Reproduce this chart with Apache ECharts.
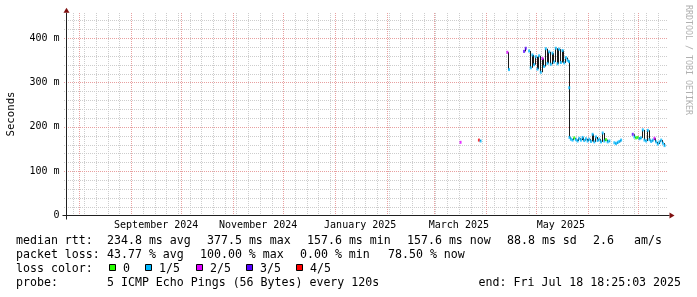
<!DOCTYPE html>
<html><head><meta charset="utf-8">
<script src="https://cdn.jsdelivr.net/npm/echarts@6/dist/echarts.min.js"></script>
<style>html,body{margin:0;padding:0;background:#fff}#c{width:697px;height:297px}</style>
</head><body><div id="c"></div>
<script>
// ---------- data ----------
const sampleTimes = [
 '2025-03-17','2025-03-18','2025-03-28','2025-03-29','2025-03-30',
 '2025-04-14','2025-04-15','2025-04-16','2025-04-24','2025-04-25','2025-04-26',
 '2025-04-27','2025-04-28','2025-04-29','2025-04-30','2025-05-01','2025-05-02','2025-05-03','2025-05-04',
 '2025-05-05','2025-05-06','2025-05-07','2025-05-08','2025-05-09','2025-05-10','2025-05-11','2025-05-12',
 '2025-05-13','2025-05-14','2025-05-15','2025-05-16','2025-05-17','2025-05-18','2025-05-19','2025-05-20',
 '2025-05-20 20:00','2025-05-21 00:00','2025-05-21 04:00',
 '2025-05-22','2025-05-23','2025-05-24','2025-05-25','2025-05-26','2025-05-27','2025-05-28','2025-05-29',
 '2025-05-30','2025-05-31','2025-06-01','2025-06-02','2025-06-03','2025-06-04','2025-06-05','2025-06-06',
 '2025-06-07','2025-06-08','2025-06-09','2025-06-10','2025-06-11','2025-06-12','2025-06-13','2025-06-14',
 '2025-06-15','2025-06-17','2025-06-18','2025-06-19','2025-06-20','2025-06-21','2025-06-22',
 '2025-06-28','2025-06-29','2025-06-30','2025-07-01','2025-07-02','2025-07-03','2025-07-04','2025-07-05',
 '2025-07-06','2025-07-07','2025-07-08','2025-07-09','2025-07-10','2025-07-11','2025-07-12','2025-07-13',
 '2025-07-14','2025-07-15','2025-07-16','2025-07-17'
];
const medianMs = [
 165,null,170,168,null,
 368,329,null,370,377,null,
 371,333,362,340,358,330,360,323,
 354,336,376,343,369,341,366,346,
 377,342,375,345,372,344,356,350,
 347,288,176,
 172,170,175,171,168,174,170,176,
 169,173,168,172,167,183,166,177,
 169,172,166,186,168,171,166,168,
 null,164,162,165,167,170,null,
 183,177,175,176,173,175,193,170,
 168,192,171,167,170,174,166,161,
 166,170,163,157.6
];
const lossLevel = [
 2,null,4,1,null,
 2,1,null,3,3,null,
 1,1,1,1,1,1,1,1,
 2,1,1,1,1,1,1,1,
 1,1,1,1,1,1,1,1,
 1,1,1,
 1,1,0,1,1,1,1,1,
 1,1,1,1,1,1,1,1,
 1,1,1,1,1,0,1,1,
 null,1,1,1,1,1,null,
 3,1,0,0,1,1,1,1,
 1,1,1,1,1,2,1,1,
 1,1,1,1
];
const lossColors = ['#26ff00','#00b8ff','#dd00ff','#5500ff','#ff0000'];
const lossLabels = ['0','1/5','2/5','3/5','4/5'];
const graphEnd = '2025-07-18 18:25:03';
const spanDays = 360;
const monthGridDates = ['2024-08-01','2024-09-01','2024-10-01','2024-11-01','2024-12-01','2025-01-01',
  '2025-02-01','2025-03-01','2025-04-01','2025-05-01','2025-06-01','2025-07-01'];
const firstWeekLine = '2024-07-28';
const monthLabels = ['September 2024','November 2024','January 2025','March 2025','May 2025'];
const monthLabelDates = ['2024-09-16','2024-11-16','2025-01-16','2025-03-16','2025-05-16'];
const yMax = 457;
const yMajorStep = 100, yMinorStep = 20;
const yTitle = 'Seconds';
const watermark = 'RRDTOOL / TOBI OETIKER';
const rttRow = ['median rtt:','234.8 ms avg','377.5 ms max','157.6 ms min','157.6 ms now','88.8 ms sd','2.6','am/s'];
const lossRow = ['packet loss:','43.77 % avg','100.00 % max','0.00 % min','78.50 % now'];
const colorRowTitle = 'loss color:';
const probeRow = ['probe:','5 ICMP Echo Pings (56 Bytes) every 120s'];
const endText = 'end: Fri Jul 18 18:25:03 2025';

// ---------- layout ----------
const rttX = [16,107,207,307,407,507,593,634];
const lossX = [16,107,200,300,388];
const boxX = [109,145,196,246,296];
const rowY = [241,255,269,283];
const FONT = '"DejaVu Sans Mono", "Liberation Mono", monospace';

function ms(s){
  const [d, tm='00:00:00'] = s.split(' ');
  const [Y,M,D] = d.split('-').map(Number);
  const [h,mi,se=0] = tm.split(':').map(Number);
  return Date.UTC(Y,M-1,D,h,mi,se);
}
const tEnd = ms(graphEnd);
const tStart = tEnd - spanDays*86400000;
const times = sampleTimes.map(ms);
// vertical connectors of the median line between consecutive samples
const connectors = [];
for(let i=1;i<times.length;i++){
  if(medianMs[i]!=null && medianMs[i-1]!=null) connectors.push([(times[i-1]+times[i])/2, medianMs[i-1], medianMs[i]]);
}
const markData = [];
times.forEach((t,i)=>{ if(medianMs[i]!=null) markData.push([t, medianMs[i], lossLevel[i]]); });
// grid lines: [value, isMajor, orientation 0=vertical 1=horizontal]
const gridLines = [];
for(let t=ms(firstWeekLine); t<tEnd; t+=7*86400000) gridLines.push([t, 0, 0]);
monthGridDates.forEach(s=>gridLines.push([ms(s), 1, 0]));
for(let v=yMinorStep; v<yMax; v+=yMinorStep) gridLines.push([v, v % yMajorStep === 0 ? 1 : 0, 1]);
const labelTimes = monthLabelDates.map(ms);

const GRAY = '#cdcdcd', RED = '#e8a0a0';

const chart = echarts.init(document.getElementById('c'), null, {renderer:'canvas'});
const option = {
  animation:false,
  backgroundColor:'#fff',
  grid:{left:65.5, top:12.8, width:602, height:202.7, containLabel:false},
  xAxis:{type:'value', min:tStart, max:tEnd,
    axisLine:{show:false}, axisTick:{show:false}, splitLine:{show:false}, axisLabel:{show:false}},
  yAxis:{type:'value', min:0, max:yMax, interval:yMajorStep,
      axisLine:{show:false}, axisTick:{show:false}, splitLine:{show:false},
      axisLabel:{show:true, showMaxLabel:false, margin:6, color:'#000', fontFamily:FONT, fontSize:10,
        formatter:(v)=> v===0 ? '0' : (v + ' m')}},
  series:[
    {type:'custom', z:1, silent:true, clip:false, data:gridLines, encode:{x:-1,y:-1},
      renderItem:(params, api)=>{
        const cs = params.coordSys;
        const major = api.value(1) === 1;
        const style = {stroke: major ? RED : GRAY, lineWidth:1, lineDash:[1,1]};
        if(api.value(2) === 0){
          const x = Math.round(api.coord([api.value(0), 0])[0]) + 0.5;
          return {type:'line', shape:{x1:x, y1:Math.round(cs.y), x2:x, y2:cs.y+cs.height}, style, z2: major?2:1};
        }
        const y = Math.round(api.coord([tStart, api.value(0)])[1]) + 0.5;
        return {type:'line', shape:{x1:Math.round(cs.x)-2, y1:y, x2:cs.x+cs.width, y2:y}, style, z2: major?2:1};
      }},
    {type:'custom', z:3, silent:true, data:connectors, encode:{x:0, y:[1,2]},
      renderItem:(params, api)=>{
        const a = api.coord([api.value(0), api.value(1)]);
        const b = api.coord([api.value(0), api.value(2)]);
        const x = Math.round(a[0]) + 0.5;
        return {type:'line', shape:{x1:x, y1:a[1], x2:x, y2:b[1]}, style:{stroke:'#1a1a1a', lineWidth:1}};
      }},
    {type:'scatter', z:4, data:markData, symbol:'rect', symbolSize:[2,3], silent:true,
      itemStyle:{color:(p)=>lossColors[p.data[2]]}}
  ]
};
chart.setOption(option);

// decorations: axes, arrows, texts
const p0 = chart.convertToPixel({gridIndex:0}, [tStart, 0]);
const p1 = chart.convertToPixel({gridIndex:0}, [tEnd, yMax]);
const ax = Math.round(p0[0])+0.5, ay = Math.round(p0[1])-0.5;
const AX = '#202020', ARR = '#7f1010';
const g = [];
g.push({type:'line', shape:{x1:ax-4, y1:ay, x2:p1[0]+2, y2:ay}, style:{stroke:AX, lineWidth:1}, z:10});
g.push({type:'line', shape:{x1:ax, y1:ay+4, x2:ax, y2:p1[1]}, style:{stroke:AX, lineWidth:1}, z:10});
g.push({type:'polygon', shape:{points:[[p1[0]+2, ay-3],[p1[0]+7, ay],[p1[0]+2, ay+3]]}, style:{fill:ARR}, z:11});
g.push({type:'polygon', shape:{points:[[ax-3, p1[1]],[ax, p1[1]-5],[ax+3, p1[1]]]}, style:{fill:ARR}, z:11});
g.push({type:'text', x:11, y:114, rotation:Math.PI/2, style:{text:yTitle, font:'10.7px '+FONT, fill:'#000', align:'center', verticalAlign:'middle'}});
g.push({type:'text', x:688, y:60, rotation:-Math.PI/2, style:{text:watermark, font:'8.3px '+FONT, fill:'#b0b0b0', align:'center', verticalAlign:'middle'}});
labelTimes.forEach((t,i)=>{
  const p = chart.convertToPixel({gridIndex:0}, [t, 0]);
  g.push({type:'text', x:p[0], y:ay+9.5, style:{text:monthLabels[i], font:'10px '+FONT, fill:'#000', align:'center', verticalAlign:'middle'}});
});
const LF = '11.6px '+FONT;
function txt(s,x,y,align){ g.push({type:'text', x:x, y:y, style:{text:s, font:LF, fill:'#000', align:align||'left', verticalAlign:'middle'}}); }
rttRow.forEach((s,i)=>txt(s, rttX[i], rowY[0]));
lossRow.forEach((s,i)=>txt(s, lossX[i], rowY[1]));
txt(colorRowTitle, 16, rowY[2]);
lossLabels.forEach((s,i)=>{
  g.push({type:'rect', shape:{x:boxX[i]+0.5, y:rowY[2]-4.5, width:6, height:6}, style:{fill:lossColors[i], stroke:'#000', lineWidth:1}});
  txt(s, boxX[i]+14, rowY[2]);
});
txt(probeRow[0], 16, rowY[3]);
txt(probeRow[1], 107, rowY[3]);
txt(endText, 681, rowY[3], 'right');
chart.setOption({graphic:{elements:g}});
</script></body></html>
